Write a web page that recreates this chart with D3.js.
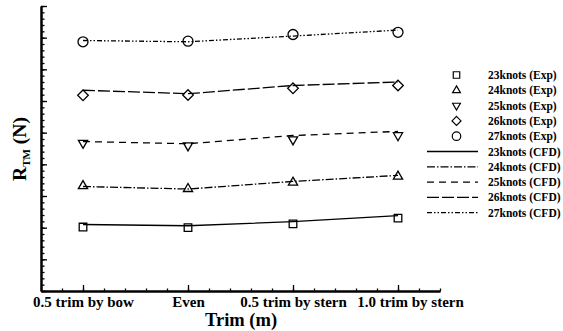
<!DOCTYPE html>
<html>
<head>
<meta charset="utf-8">
<script src="https://cdn.jsdelivr.net/npm/d3@7"></script>
<style>
  html, body { margin: 0; padding: 0; background: #fff; }
  svg { display: block; }
  text { font-family: "Liberation Serif", "Times New Roman", serif; font-weight: bold; fill: #000; }
</style>
</head>
<body>
<svg id="chart" width="563" height="331"></svg>
<script>
// Trim conditions along the x axis
const categories = ["0.5 trim by bow", "Even", "0.5 trim by stern", "1.0 trim by stern"];
const speeds = ["23knots", "24knots", "25knots", "26knots", "27knots"];

// Total resistance, towing-tank measurements
const exp23 = [20.2, 20.0, 21.2, 23.0];
const exp24 = [33.2, 32.3, 34.3, 36.2];
const exp25 = [46.7, 45.9, 47.8, 49.1];
const exp26 = [61.8, 61.9, 64.0, 64.9];
const exp27 = [78.7, 78.9, 81.0, 81.7];

// Total resistance, CFD predictions
const cfd23 = [21.0, 20.6, 21.9, 23.8];
const cfd24 = [33.0, 32.2, 34.6, 36.5];
const cfd25 = [47.2, 46.5, 49.1, 50.4];
const cfd26 = [63.4, 62.3, 64.9, 66.0];
const cfd27 = [79.1, 78.7, 80.5, 82.4];

const expSeries = [exp23, exp24, exp25, exp26, exp27];
const cfdSeries = [cfd23, cfd24, cfd25, cfd26, cfd27];

const markerKinds = ["square", "triangleUp", "triangleDown", "diamond", "circle"];
const dashPatterns = [null, "8,2,1.5,2", "7,5", "12,3", "5,2,1.5,2,1.5,2"];

const svg = d3.select("#chart");

const x = d3.scaleLinear().domain([-0.4, 3.4]).range([41, 440]);
const y = d3.scaleLinear().domain([0, 90]).range([291, 6]);

// Marker shapes, sized in pixels
function markerPath(kind) {
  const p = d3.path();
  if (kind === "square") {
    const h = 3.8; p.rect(-h, -h, 2 * h, 2 * h);
  } else if (kind === "circle") {
    p.arc(0, 0, 5, 0, 2 * Math.PI); p.closePath();
  } else if (kind === "diamond") {
    const h = 5.3; p.moveTo(0, -h); p.lineTo(h, 0); p.lineTo(0, h); p.lineTo(-h, 0); p.closePath();
  } else if (kind === "triangleUp") {
    p.moveTo(0, -5.2); p.lineTo(4.6, 2.8); p.lineTo(-4.6, 2.8); p.closePath();
  } else {
    p.moveTo(0, 5.2); p.lineTo(4.6, -2.8); p.lineTo(-4.6, -2.8); p.closePath();
  }
  return p.toString();
}

// Axes: major ticks inside the frame, minor ticks between
const yMajor = d3.axisLeft(y).tickValues(d3.range(0, 91, 10)).tickSizeInner(-6).tickSizeOuter(0).tickFormat("");
const yMinor = d3.axisLeft(y).tickValues(d3.range(0, 90.1, 2)).tickSizeInner(-3.5).tickSizeOuter(0).tickFormat("");
const xMajor = d3.axisBottom(x).tickValues([0, 1, 2, 3]).tickSizeInner(-6).tickSizeOuter(0).tickPadding(5)
  .tickFormat(i => categories[i]);
const xMinor = d3.axisBottom(x).tickValues(d3.range(-0.4, 3.41, 0.2)).tickSizeInner(-2.5).tickSizeOuter(0).tickFormat("");

function styleAxis(g) {
  g.select(".domain").attr("stroke", "#000").attr("stroke-width", 2);
  g.selectAll(".tick line").attr("stroke", "#000").attr("stroke-width", 1.3);
}

svg.append("g").attr("transform", "translate(41,0)").call(yMinor).call(styleAxis);
svg.append("g").attr("transform", "translate(41,0)").call(yMajor).call(styleAxis);
svg.append("g").attr("transform", "translate(0,291)").call(xMinor).call(styleAxis);
const gx = svg.append("g").attr("transform", "translate(0,291)").call(xMajor).call(styleAxis);
gx.selectAll(".tick text").attr("font-size", 15).attr("font-family", "Liberation Serif, serif")
  .attr("font-weight", "bold").attr("fill", "#000")
  .attr("dx", (d, i) => i === categories.length - 1 ? 12 : 0);

// Axis titles
svg.append("text").attr("x", 241).attr("y", 326).attr("text-anchor", "middle").attr("font-size", 18.5).text("Trim (m)");

const yt = svg.append("text").attr("transform", "translate(25.5,149) rotate(-90)").attr("text-anchor", "middle").attr("font-size", 19.5);
yt.append("tspan").text("R");
yt.append("tspan").attr("font-size", 11).attr("dy", 4).text("TM");
yt.append("tspan").attr("dy", -4).text(" (N)");

// CFD lines
const line = d3.line().x((d, i) => x(i)).y(d => y(d));
const plot = svg.append("g");
cfdSeries.forEach((s, k) => {
  plot.append("path").attr("d", line(s)).attr("fill", "none").attr("stroke", "#000")
    .attr("stroke-width", 1.3).attr("stroke-dasharray", dashPatterns[k]);
});

// Experimental markers
expSeries.forEach((s, k) => {
  plot.selectAll(null).data(s).join("path")
    .attr("d", markerPath(markerKinds[k]))
    .attr("transform", (d, i) => `translate(${x(i)},${y(d)})`)
    .attr("fill", "none").attr("stroke", "#000").attr("stroke-width", 1.3);
});

// Legend
const legend = svg.append("g");
const rowY = i => 75 + i * 15.3;
speeds.forEach((sp, k) => {
  legend.append("path").attr("d", markerPath(markerKinds[k]))
    .attr("transform", `translate(456.5,${rowY(k)}) scale(0.85)`)
    .attr("fill", "none").attr("stroke", "#000").attr("stroke-width", 1.4);
  legend.append("text").attr("x", 488).attr("y", rowY(k) + 4).attr("font-size", 11.5).text(`${sp} (Exp)`);
});
speeds.forEach((sp, k) => {
  const yy = rowY(k + 5);
  legend.append("line").attr("x1", 427).attr("x2", 478).attr("y1", yy).attr("y2", yy)
    .attr("stroke", "#000").attr("stroke-width", 1.3).attr("stroke-dasharray", dashPatterns[k]);
  legend.append("text").attr("x", 488).attr("y", yy + 4).attr("font-size", 11.5).text(`${sp} (CFD)`);
});
</script>
</body>
</html>
